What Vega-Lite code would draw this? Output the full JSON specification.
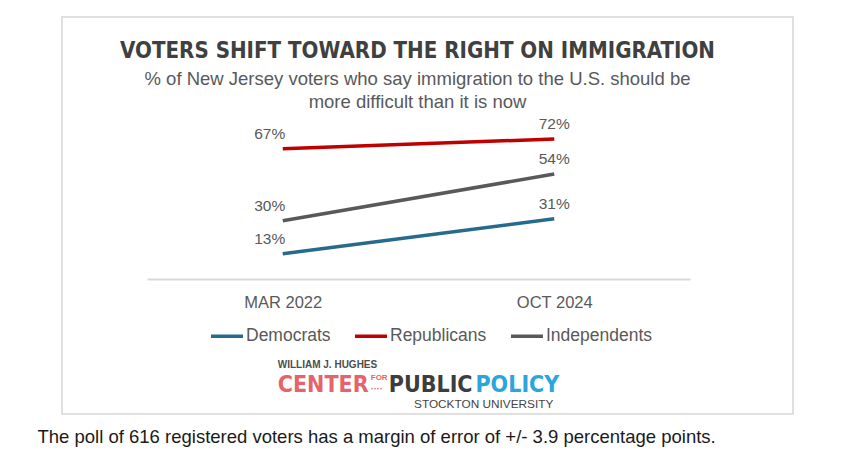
{
  "$schema": "https://vega.github.io/schema/vega-lite/v6.json",
  "autosize": {"type": "none"},
  "padding": {"left": 62, "top": 17, "right": 55, "bottom": 55},
  "width": 731,
  "height": 397,
  "background": "white",
  "config": {
    "view": {"stroke": "#d6d6d6", "strokeWidth": 1.5},
    "font": "Liberation Sans"
  },
  "title": {
    "text": "VOTERS SHIFT TOWARD THE RIGHT ON IMMIGRATION",
    "subtitle": ["% of New Jersey voters who say immigration to the U.S. should be", "more difficult than it is now"],
    "anchor": "middle",
    "frame": "group",
    "offset": -95,
    "dx": -10,
    "font": "DejaVu Sans Condensed, Liberation Sans Narrow, sans-serif",
    "fontSize": 22.1,
    "fontWeight": "bold",
    "color": "#404040",
    "subtitleFont": "Liberation Sans",
    "subtitleFontSize": 18.5,
    "subtitleColor": "#595959",
    "subtitlePadding": 6,
    "subtitleLineHeight": 23
  },
  "datasets": {
    "poll": [
      {"period": "MAR 2022", "party": "Democrats", "value": 0.13},
      {"period": "OCT 2024", "party": "Democrats", "value": 0.31},
      {"period": "MAR 2022", "party": "Republicans", "value": 0.67},
      {"period": "OCT 2024", "party": "Republicans", "value": 0.72},
      {"period": "MAR 2022", "party": "Independents", "value": 0.30},
      {"period": "OCT 2024", "party": "Independents", "value": 0.54}
    ]
  },
  "layer": [
    {
      "data": {"name": "poll"},
      "mark": {"type": "line", "strokeWidth": 3.5},
      "encoding": {
        "x": {
          "field": "period",
          "type": "ordinal",
          "scale": {"type": "point", "domain": ["MAR 2022", "OCT 2024"], "range": [85, 628], "padding": 0.5},
          "axis": {
            "orient": "bottom",
            "offset": -135,
            "domainColor": "#d9d9d9",
            "domainWidth": 2,
            "ticks": false,
            "tickSize": 0,
            "grid": false,
            "labelAngle": 0,
            "labelPadding": 15,
            "labelFont": "Liberation Sans",
            "labelFontSize": 16.5,
            "labelColor": "#595959",
            "title": "The poll of 616 registered voters has a margin of error of +/- 3.9 percentage points.",
            "titleX": -25,
            "titleY": 157,
            "titleAlign": "left",
            "titleBaseline": "middle",
            "titleFont": "Liberation Sans",
            "titleFontSize": 18.5,
            "titleFontWeight": "normal",
            "titleColor": "#1a1a1a"
          }
        },
        "y": {
          "field": "value",
          "type": "quantitative",
          "scale": {"domain": [0, 1], "range": [262, 67.6], "nice": false, "zero": false},
          "axis": null
        },
        "color": {
          "field": "party",
          "type": "nominal",
          "scale": {"domain": ["Democrats", "Republicans", "Independents"], "range": ["#266a8c", "#c00000", "#595959"]},
          "legend": {
            "title": null,
            "orient": "none",
            "legendX": 147,
            "legendY": 301,
            "direction": "horizontal",
            "symbolType": "stroke",
            "symbolSize": 1024,
            "symbolStrokeWidth": 3.5,
            "labelFont": "Liberation Sans",
            "labelFontSize": 17.5,
            "labelColor": "#595959",
            "labelOffset": 1,
            "columnPadding": 17,
            "padding": 0
          }
        }
      }
    },
    {
      "data": {"name": "poll"},
      "transform": [{"filter": "datum.period === 'MAR 2022'"}],
      "mark": {"type": "text", "dy": -15, "dx": -13, "fontSize": 15.5, "color": "#595959", "font": "Liberation Sans"},
      "encoding": {
        "x": {"field": "period", "type": "ordinal"},
        "y": {"field": "value", "type": "quantitative"},
        "text": {"field": "value", "type": "quantitative", "format": ".0%"}
      }
    },
    {
      "data": {"name": "poll"},
      "transform": [{"filter": "datum.period === 'OCT 2024'"}],
      "mark": {"type": "text", "dy": -15, "fontSize": 15.5, "color": "#595959", "font": "Liberation Sans"},
      "encoding": {
        "x": {"field": "period", "type": "ordinal"},
        "y": {"field": "value", "type": "quantitative"},
        "text": {"field": "value", "type": "quantitative", "format": ".0%"}
      }
    },
    {
      "data": {"values": [{"t": "WILLIAM J. HUGHES"}]},
      "mark": {"type": "text", "align": "left", "baseline": "middle", "dx": -5, "fontSize": 10, "fontWeight": "bold", "color": "#4d4d4d", "font": "Liberation Sans"},
      "encoding": {
        "text": {"field": "t", "type": "nominal"},
        "x": {"datum": "MAR 2022", "type": "ordinal"},
        "y": {"datum": -0.44, "type": "quantitative"}
      }
    },
    {
      "data": {"values": [{"t": "CENTER"}]},
      "mark": {"type": "text", "align": "left", "baseline": "middle", "dx": -5, "fontSize": 23, "fontWeight": "bold", "color": "#e5646b", "font": "DejaVu Sans Condensed, sans-serif"},
      "encoding": {
        "text": {"field": "t", "type": "nominal"},
        "x": {"datum": "MAR 2022", "type": "ordinal"},
        "y": {"datum": -0.545, "type": "quantitative"}
      }
    },
    {
      "data": {"values": [{"t": "FOR"}]},
      "mark": {"type": "text", "align": "left", "baseline": "middle", "dx": 88, "fontSize": 8, "fontWeight": "bold", "color": "#e5646b", "font": "Liberation Sans"},
      "encoding": {
        "text": {"field": "t", "type": "nominal"},
        "x": {"datum": "MAR 2022", "type": "ordinal"},
        "y": {"datum": -0.51, "type": "quantitative"}
      }
    },
    {
      "data": {"values": [{"t": "····"}]},
      "mark": {"type": "text", "align": "left", "baseline": "middle", "dx": 88, "fontSize": 9, "fontWeight": "bold", "color": "#e5646b", "font": "Liberation Sans"},
      "encoding": {
        "text": {"field": "t", "type": "nominal"},
        "x": {"datum": "MAR 2022", "type": "ordinal"},
        "y": {"datum": -0.565, "type": "quantitative"}
      }
    },
    {
      "data": {"values": [{"t": "PUBLIC"}]},
      "mark": {"type": "text", "align": "left", "baseline": "middle", "dx": 106, "fontSize": 23, "fontWeight": "bold", "color": "#3d3d3d", "font": "DejaVu Sans Condensed, sans-serif"},
      "encoding": {
        "text": {"field": "t", "type": "nominal"},
        "x": {"datum": "MAR 2022", "type": "ordinal"},
        "y": {"datum": -0.545, "type": "quantitative"}
      }
    },
    {
      "data": {"values": [{"t": "POLICY"}]},
      "mark": {"type": "text", "align": "right", "baseline": "middle", "dx": 5, "fontSize": 23, "fontWeight": "bold", "color": "#2aa5de", "font": "DejaVu Sans Condensed, sans-serif"},
      "encoding": {
        "text": {"field": "t", "type": "nominal"},
        "x": {"datum": "OCT 2024", "type": "ordinal"},
        "y": {"datum": -0.545, "type": "quantitative"}
      }
    },
    {
      "data": {"values": [{"t": "STOCKTON UNIVERSITY"}]},
      "mark": {"type": "text", "align": "right", "baseline": "middle", "dx": -1, "fontSize": 11.8, "color": "#444444", "font": "Liberation Sans"},
      "encoding": {
        "text": {"field": "t", "type": "nominal"},
        "x": {"datum": "OCT 2024", "type": "ordinal"},
        "y": {"datum": -0.643, "type": "quantitative"}
      }
    }
  ]
}
